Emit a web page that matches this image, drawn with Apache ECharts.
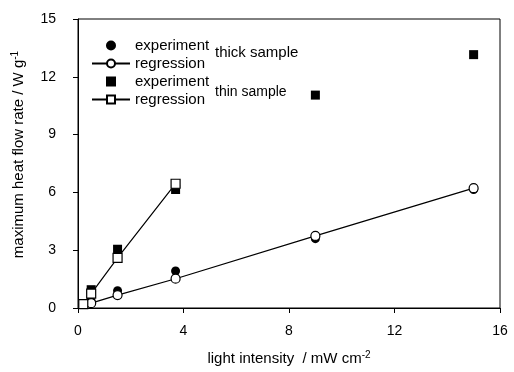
<!DOCTYPE html>
<html>
<head>
<meta charset="utf-8">
<script src="https://cdn.jsdelivr.net/npm/echarts@6/dist/echarts.min.js"></script>
<style>
  html, body { margin: 0; padding: 0; background: #fff; }
  #chart { width: 514px; height: 372px; }
</style>
</head>
<body>
<div id="chart"></div>
<script>
// light intensity (mW cm-2) / heat flow rate (W g-1)
var thickExpX = [0.5, 1.5, 3.7, 9, 15];
var thickExpY = [0.35, 0.9, 1.92, 3.6, 6.15];
var thickRegX = [0.5, 1.5, 3.7, 9, 15];
var thickRegY = [0.25, 0.67, 1.52, 3.74, 6.22];
var thinExpX = [0.5, 1.5, 3.7, 9, 15];
var thinExpY = [0.95, 3.05, 6.15, 11.05, 13.15];
var thinRegX = [0.2, 0.5, 1.5, 3.7];
var thinRegY = [0.2, 0.75, 2.6, 6.45];
var xTicks = [0, 4, 8, 12, 16];
var yTicks = [0, 3, 6, 9, 12, 15];

function pairs(xs, ys) {
    var out = [];
    for (var i = 0; i < xs.length; i++) out.push([xs[i], ys[i]]);
    return out;
}

var font = 'Liberation Sans, Arial, sans-serif';
var chart = echarts.init(document.getElementById('chart'), null, { renderer: 'canvas' });

var openStyle = { color: '#fff', borderColor: '#000', borderWidth: 1.2, opacity: 1 };
var fillStyle = { color: '#000', borderColor: '#000', borderWidth: 0, opacity: 1 };
var supStyle = { fontFamily: font, fontSize: 10, color: '#000', verticalAlign: 'top', padding: [0, 0, 8, 0] };

var option = {
    backgroundColor: '#fff',
    animation: false,
    grid: { left: 78, right: 14, top: 19, bottom: 64, containLabel: false },
    legend: {
        orient: 'vertical',
        left: 86,
        top: 33,
        itemGap: 3,
        itemWidth: 38,
        itemHeight: 10,
        textStyle: { fontFamily: font, fontSize: 15, color: '#000' },
        formatter: function (name) { return name.split(' ')[1]; },
        data: [
            { name: 'thick experiment' },
            { name: 'thick regression' },
            { name: 'thin experiment', icon: 'path://M0,0H10V10H0Z' },
            { name: 'thin regression' }
        ]
    },
    xAxis: {
        type: 'value',
        min: 0, max: 16, interval: 4,
        name: 'light intensity  / mW cm{sup|-2}',
        nameLocation: 'middle',
        nameGap: 42,
        nameTextStyle: { fontFamily: font, fontSize: 15, color: '#000', rich: { sup: supStyle } },
        axisLine: { show: true, lineStyle: { color: '#000', width: 1 } },
        axisTick: { show: true, inside: false, length: 5, lineStyle: { color: '#000' } },
        axisLabel: { fontFamily: font, fontSize: 14, color: '#000', margin: 16 },
        splitLine: { show: false }
    },
    yAxis: {
        type: 'value',
        min: 0, max: 15, interval: 3,
        name: 'maximum heat flow rate / W g{sup|-1}',
        nameLocation: 'middle',
        nameGap: 50,
        nameTextStyle: { fontFamily: font, fontSize: 15, color: '#000', padding: [0, 0, 0, 18], rich: { sup: supStyle } },
        axisLine: { show: true, lineStyle: { color: '#000', width: 1 } },
        axisTick: { show: true, inside: false, length: 5, lineStyle: { color: '#000' } },
        axisLabel: { fontFamily: font, fontSize: 14, color: '#000', margin: 22 },
        splitLine: { show: false }
    },
    graphic: [
        { type: 'rect', shape: { x: 78, y: 19, width: 422, height: 289 }, style: { fill: 'none', stroke: '#000', lineWidth: 1 }, silent: true },
        { type: 'text', left: 215, top: 45, style: { text: 'thick sample', fontFamily: font, fontSize: 15, fill: '#000' } },
        { type: 'text', left: 215, top: 85, style: { text: 'thin sample', fontFamily: font, fontSize: 14, fill: '#000' } }
    ],
    series: [
        {
            name: 'thick experiment', type: 'scatter', symbol: 'circle', symbolSize: 9,
            itemStyle: fillStyle, data: pairs(thickExpX, thickExpY), z: 3
        },
        {
            name: 'thick regression', type: 'line', symbol: 'circle', symbolSize: 9, showAllSymbol: true,
            lineStyle: { color: '#000', width: 1.2 }, itemStyle: openStyle,
            data: pairs(thickRegX, thickRegY), z: 4
        },
        {
            name: 'thin experiment', type: 'scatter', symbol: 'rect', symbolSize: 9,
            itemStyle: fillStyle, data: pairs(thinExpX, thinExpY), z: 3
        },
        {
            name: 'thin regression', type: 'line', symbol: 'rect', symbolSize: 9, showAllSymbol: true,
            lineStyle: { color: '#000', width: 1.2 }, itemStyle: openStyle,
            data: pairs(thinRegX, thinRegY), z: 4
        }
    ]
};
chart.setOption(option);
</script>
</body>
</html>
